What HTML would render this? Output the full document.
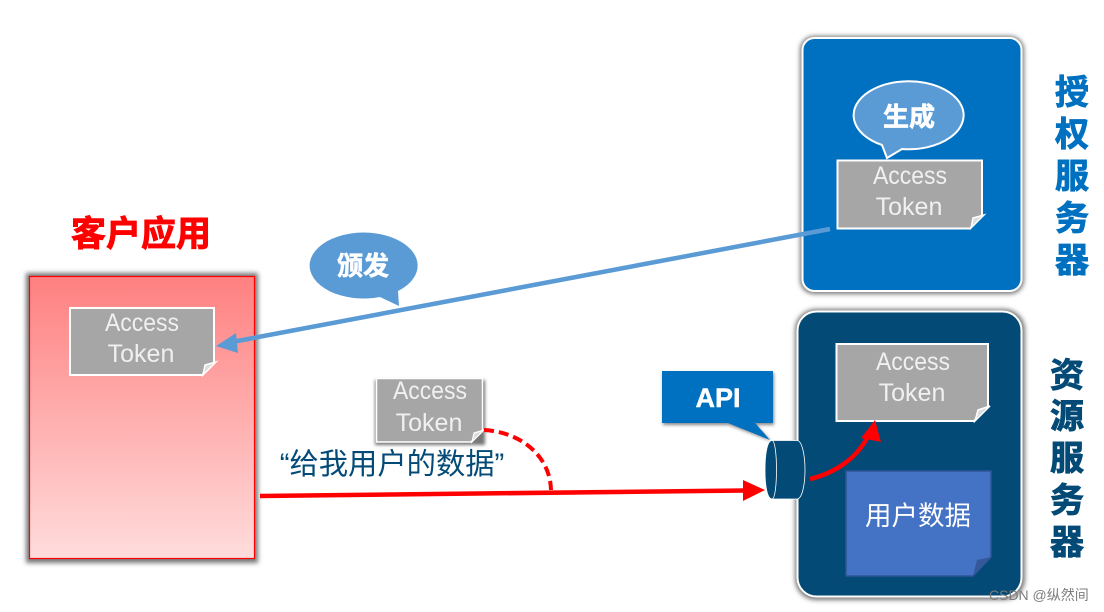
<!DOCTYPE html>
<html><head><meta charset="utf-8">
<style>
html,body{margin:0;padding:0;background:#fff;width:1104px;height:612px;overflow:hidden}
svg{display:block}
text{font-family:"Liberation Sans","Noto Sans CJK SC",sans-serif}
.a{font-size:25px;fill:#f0f0f0;text-anchor:middle;font-weight:400}
.h{font-size:34px;font-weight:700;text-anchor:middle;stroke-width:.9px}
</style></head><body>
<svg width="1104" height="612" viewBox="0 0 1104 612" xmlns="http://www.w3.org/2000/svg">
<defs>
<linearGradient id="g" x1="0" y1="0" x2="0" y2="1"><stop offset="0" stop-color="#ff8080"/><stop offset="1" stop-color="#ffdcdc"/></linearGradient>
<filter id="s" x="-10%" y="-10%" width="120%" height="120%"><feGaussianBlur stdDeviation="2.5"/></filter>
<filter id="s2" x="-10%" y="-10%" width="120%" height="120%"><feGaussianBlur stdDeviation="1.5"/></filter>
</defs>

<!-- client -->
<rect x="26" y="273" width="232" height="290" fill="#777" filter="url(#s)"/>
<rect x="29.500" y="276.500" width="225" height="282" fill="url(#g)" stroke="#f00" stroke-width="1.200"/>
<text class="h" x="141" y="246" fill="#f00" stroke="#f00" style="font-size:35px">客户应用</text>
<path d="M70 308H214V362L202 375H70Z" fill="#a6a6a6" stroke="#fff" stroke-width="2"/>
<path d="M203 375L216 362L205 365Z" fill="#ddd" stroke="#fff" stroke-width="1.500"/>
<text class="a" x="142" y="331" textLength="74" lengthAdjust="spacingAndGlyphs">Access</text>
<text class="a" x="141" y="362">Token</text>

<!-- auth server -->
<rect x="800" y="36" width="224" height="258" rx="14" fill="#777" filter="url(#s)"/>
<rect x="802.500" y="38" width="219" height="253" rx="12" fill="#0070c0" stroke="#fff" stroke-width="2"/>
<path d="M882 145A55 34 0 1 1 902 149L887 158Z" fill="#5b9bd5" stroke="#fff" stroke-width="2"/>
<text x="909" y="126" font-size="26" font-weight="700" fill="#fff" stroke="#fff" stroke-width=".6" text-anchor="middle">生成</text>
<path d="M837.500 160.500H982V215L970 228.500H837.500Z" fill="#a6a6a6" stroke="#fff" stroke-width="2"/>
<path d="M971 228L984 215L973 218Z" fill="#ddd" stroke="#fff" stroke-width="1.500"/>
<text class="a" x="910" y="184" textLength="74" lengthAdjust="spacingAndGlyphs">Access</text>
<text class="a" x="909" y="215">Token</text>
<text class="h" x="1072" y="104" fill="#0070c0" stroke="#0070c0">授</text>
<text class="h" x="1072" y="146" fill="#0070c0" stroke="#0070c0">权</text>
<text class="h" x="1072" y="188" fill="#0070c0" stroke="#0070c0">服</text>
<text class="h" x="1072" y="230" fill="#0070c0" stroke="#0070c0">务</text>
<text class="h" x="1072" y="272" fill="#0070c0" stroke="#0070c0">器</text>

<!-- resource server -->
<rect x="795" y="309" width="230" height="291" rx="21" fill="#777" filter="url(#s)"/>
<rect x="797.500" y="311.500" width="224" height="285" rx="19" fill="#034a76" stroke="#fff" stroke-width="2"/>
<path d="M836.500 344H988V406L974 421H836.500Z" fill="#a6a6a6" stroke="#fff" stroke-width="2"/>
<path d="M975 421L990 406L978 410Z" fill="#ddd" stroke="#fff" stroke-width="1.500"/>
<text class="a" x="913" y="370" textLength="74" lengthAdjust="spacingAndGlyphs">Access</text>
<text class="a" x="912" y="401">Token</text>
<path d="M846 471H991V557L973 576H846Z" fill="#4472c4" stroke="#2f5597" stroke-width="1.500"/>
<path d="M973 576L991 557L977 560Z" fill="#35589a"/>
<text x="918" y="525" font-size="26.500" fill="#fff" text-anchor="middle">用户数据</text>
<text class="h" x="1067" y="387" fill="#034a76" stroke="#034a76">资</text>
<text class="h" x="1067" y="428" fill="#034a76" stroke="#034a76">源</text>
<text class="h" x="1067" y="470" fill="#034a76" stroke="#034a76">服</text>
<text class="h" x="1067" y="512" fill="#034a76" stroke="#034a76">务</text>
<text class="h" x="1067" y="554" fill="#034a76" stroke="#034a76">器</text>

<!-- blue arrow + bubble -->
<line x1="830" y1="229" x2="232" y2="342" stroke="#5b9bd5" stroke-width="4.500"/>
<path d="M216 346L236 333L238 353Z" fill="#5b9bd5"/>
<path d="M380 297A54 33 0 1 1 398 291L399 306Z" fill="#5b9bd5"/>
<text x="363" y="275" font-size="26" font-weight="700" fill="#fff" stroke="#fff" stroke-width=".6" text-anchor="middle">颁发</text>

<!-- small token -->
<rect x="375" y="380" width="110" height="65" fill="#777" filter="url(#s2)"/>
<path d="M376.500 378.500H482.500V430L471 442H376.500Z" fill="#a6a6a6" stroke="#fff" stroke-width="1.500"/>
<path d="M472 442L484 430L474 433Z" fill="#ddd" stroke="#fff" stroke-width="1.200"/>
<text class="a" x="430" y="399" textLength="74" lengthAdjust="spacingAndGlyphs">Access</text>
<text class="a" x="429" y="431">Token</text>

<!-- dashed arc -->
<path d="M484 430C520 432 550 455 551 490" fill="none" stroke="#f00" stroke-width="4" stroke-dasharray="10 5"/>

<!-- quote -->
<text x="392" y="474" font-size="29.300" fill="#034a76" text-anchor="middle">“给我用户的数据”</text>

<!-- red arrow -->
<line x1="260" y1="496" x2="745" y2="490.500" stroke="#f00" stroke-width="4.500"/>
<path d="M765 490L743 480V501Z" fill="#f00"/>

<!-- API callout -->
<path d="M662 371H773V423H755L770 439L728 423H662Z" fill="#888" filter="url(#s2)" transform="translate(1 2)"/>
<path d="M662 371H773V423H755L770 440L728 423H662Z" fill="#0070c0"/>
<text x="718" y="407" font-size="27" font-weight="700" fill="#fff" stroke="#fff" stroke-width=".4" text-anchor="middle">API</text>

<!-- cylinder -->
<path d="M772 440.500H797C802 440.500 805 455 805 470C805 485 802 499 797 499H772C767 499 765 485 765 470C765 455 767 440.500 772 440.500Z" fill="#034a76" stroke="#fff" stroke-width="0.800"/>
<path d="M772 440.500C778 440.500 778 499 772 499" fill="none" stroke="#fff" stroke-width="0.800"/>

<!-- curved red arrow -->
<path d="M810 479C835 473 858 458 869 434" fill="none" stroke="#f00" stroke-width="4.500"/>
<path d="M875 420L861 438L881 442Z" fill="#f00"/>

<!-- watermark -->
<text x="989" y="600" font-size="14" fill="#7d7d7d">CSDN @纵然间</text>
</svg>
</body></html>
